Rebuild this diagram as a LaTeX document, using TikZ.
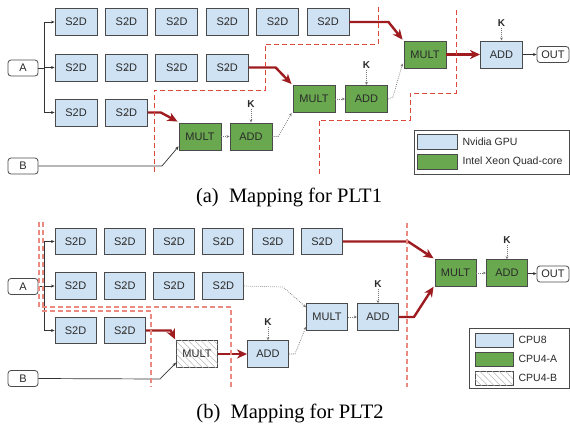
\documentclass[tikz,border=0pt]{standalone}
\usepackage{fontspec}
\usepackage{graphicx}
\setmainfont{Liberation Serif}
\setsansfont{Liberation Sans}
\usetikzlibrary{arrows.meta,calc,patterns.meta}

\definecolor{bluefill}{HTML}{CFE2F3}
\definecolor{greenfill}{HTML}{6AA84F}
\definecolor{boxline}{HTML}{4A4A4A}
\definecolor{txt}{HTML}{2A2A2A}
\definecolor{dotgray}{HTML}{777777}
\definecolor{wiregray}{HTML}{333333}
\definecolor{hotred}{HTML}{9E1B1F}
\definecolor{cutred}{HTML}{E0473C}
\definecolor{cutpink}{HTML}{EA8A80}

\tikzset{
  box/.style={draw=boxline, line width=0.9pt, minimum width=42pt, minimum height=27pt,
    inner sep=0pt, text=txt, font=\sffamily\fontsize{11}{11}\selectfont},
  gpu/.style={box, fill=bluefill},
  cpu/.style={box, fill=greenfill},
  hatchbox/.style={box, fill=white,
    postaction={pattern={Lines[angle=-45,distance=4.5pt,line width=0.5pt]}, pattern color=gray!55}},
  ionode/.style={draw=boxline, line width=0.8pt, rounded corners=3pt, minimum width=30pt,
    minimum height=16pt, inner sep=0pt, fill=white, text=txt, font=\sffamily\fontsize{11}{11}\selectfont},
  klabel/.style={inner sep=1pt, text=txt, font=\sffamily\bfseries\fontsize{10}{10}\selectfont},
  flow/.style={draw=dotgray, line width=0.7pt, dash pattern=on 0.8pt off 1.2pt,
    -{Stealth[length=3.2pt,width=2.8pt]}},
  wire/.style={draw=wiregray, line width=0.7pt, -{Stealth[length=3.6pt,width=3pt]}},
  hot/.style={draw=hotred, line width=2.4pt, -{Stealth[length=10pt,width=9pt,inset=3pt]}},
  cutA/.style={draw=cutred, line width=1pt, dash pattern=on 5pt off 3pt},
  cutB/.style={draw=cutpink, line width=1.4pt, dash pattern=on 5pt off 3pt},
  swatch/.style={draw=boxline, line width=0.9pt, minimum width=40pt, minimum height=15pt, inner sep=0pt},
  legtext/.style={anchor=west, inner sep=0pt, text=txt, font=\sffamily\fontsize{10.5}{10.5}\selectfont},
  caption/.style={inner sep=0pt, font=\fontsize{20.5}{20.5}\selectfont}
}

\begin{document}
\begin{tikzpicture}[x=1pt,y=-1pt]
\useasboundingbox (0,0) rectangle (570,426);

% ---------------- (a) Mapping for PLT1 ----------------
\foreach \x [count=\c] in {76,126.4,176.8,227.2,277.6,328}
  \node[gpu] (pa-r1-\c) at (\x,22) {S2D};
\foreach \x [count=\c] in {76,126.4,176.8,227.2}
  \node[gpu] (pa-r2-\c) at (\x,67.5) {S2D};
\foreach \x [count=\c] in {76,126.4}
  \node[gpu] (pa-r3-\c) at (\x,112.5) {S2D};

\node[ionode] (pa-A) at (23,68) {A};
\node[ionode] (pa-B) at (23,166) {B};

\node[cpu] (pa-mult1) at (200,136.5) {MULT};
\node[cpu] (pa-add1) at (251,136.5) {ADD};
\node[klabel] (pa-k1) at (251,104) {K};
\node[cpu] (pa-mult2) at (314,99) {MULT};
\node[cpu] (pa-add2) at (366.5,99) {ADD};
\node[klabel] (pa-k2) at (366.5,65) {K};
\node[cpu] (pa-mult3) at (425,54.5) {MULT};
\node[gpu] (pa-add3) at (501.5,54.5) {ADD};
\node[klabel] (pa-k3) at (501.5,23) {K};
\node[ionode, minimum width=32pt] (pa-out) at (553,54.5) {OUT};

% chains of S2D stages
\foreach \r/\n in {1/6,2/4,3/2}
  \foreach \c [evaluate=\c as \p using int(\c-1)] in {2,...,\n}
    \draw[flow] (pa-r\r-\p) -- (pa-r\r-\c);

\coordinate (pa-split) at (44,68);
\draw[wiregray, line width=0.7pt] (pa-A.east) -- (pa-split);
\draw[wiregray, line width=0.7pt] (pa-split |- pa-r1-1) -- (pa-split |- pa-r3-1);
\foreach \r in {1,2,3}
  \draw[wire] (pa-split |- pa-r\r-1) -- (pa-r\r-1.west);

\draw[hot] (pa-r3-2.east) -- ++(13,0) -- ($(pa-mult1.north west)+(-1,-1)$);
\draw[wire] (pa-B.east) -- (162,166) -- ($(pa-mult1.south west)+(0,-4)$);
\draw[flow] (pa-mult1) -- (pa-add1);
\draw[flow] (pa-k1) -- (pa-add1);
\draw[flow] (pa-add1.east) -- ++(6,0) -- ($(pa-mult2.south west)+(-1,0)$);
\draw[hot] (pa-r2-4.east) -- ++(27,0) -- ($(pa-mult2.north west)+(-1,-1)$);
\draw[flow] (pa-mult2) -- (pa-add2);
\draw[flow] (pa-k2) -- (pa-add2);
\draw[flow] (pa-add2.east) -- ++(5,-2) -- ($(pa-mult3.south west)+(-1,-5)$);
\draw[hot] (pa-r1-6.east) -- ++(39,0) -- ($(pa-mult3.north west)+(-1,-1)$);
\draw[hot] (pa-mult3) -- (pa-add3);
\draw[flow] (pa-k3) -- (pa-add3);
\draw[wire] (pa-add3) -- (pa-out);

\draw[cutA] (378,7) -- (378,44) -- (265,44) -- (265,90) -- (154,90) -- (154,174);
\draw[cutA] (456,10) -- (456,93) -- (410,93) -- (410,120) -- (319,120) -- (319,174);

\draw[draw=boxline, line width=0.9pt, fill=white] (414,130) rectangle (569,174);
\node[swatch, fill=bluefill] (pa-leg1) at (437,141.5) {};
\node[swatch, fill=greenfill] (pa-leg2) at (437,162) {};
\node[legtext] at ($(pa-leg1.east)+(5,0)$) {Nvidia GPU};
\node[legtext] at ($(pa-leg2.east)+(5,0)$) {Intel Xeon Quad-core};

\node[caption] (pa-cap) at (289,197) {(a)\hspace{0.5em}Mapping for PLT1};

% ---------------- (b) Mapping for PLT2 ----------------
\tikzset{box/.append style={minimum width=41pt, minimum height=26.5pt}}
\foreach \x [count=\c] in {75.5,124.8,174.1,223.4,272.7,322}
  \node[gpu] (pb-r1-\c) at (\x,241.5) {S2D};
\foreach \x [count=\c] in {75.5,124.8,174.1,223.4}
  \node[gpu] (pb-r2-\c) at (\x,286) {S2D};
\foreach \x [count=\c] in {75.5,124.8}
  \node[gpu] (pb-r3-\c) at (\x,330.5) {S2D};

\node[ionode] (pb-A) at (23,286.5) {A};
\node[ionode] (pb-B) at (23,378.5) {B};

\node[hatchbox] (pb-mult1) at (197,354) {MULT};
\node[gpu] (pb-add1) at (268,354) {ADD};
\node[klabel] (pb-k1) at (268,322) {K};
\node[gpu] (pb-mult2) at (327,317) {MULT};
\node[gpu] (pb-add2) at (378,317) {ADD};
\node[klabel] (pb-k2) at (378,284) {K};
\node[cpu] (pb-mult3) at (455.5,273) {MULT};
\node[cpu] (pb-add3) at (507,273) {ADD};
\node[klabel] (pb-k3) at (507,240) {K};
\node[ionode, minimum width=32pt] (pb-out) at (553,274) {OUT};

\foreach \r/\n in {1/6,2/4,3/2}
  \foreach \c [evaluate=\c as \p using int(\c-1)] in {2,...,\n}
    \draw[flow] (pb-r\r-\p) -- (pb-r\r-\c);

\coordinate (pb-split) at (44,286.5);
\draw[wiregray, line width=0.7pt] (pb-A.east) -- (pb-split);
\draw[wiregray, line width=0.7pt] (pb-split |- pb-r1-1) -- (pb-split |- pb-r3-1);
\foreach \r in {1,2,3}
  \draw[wire] (pb-split |- pb-r\r-1) -- (pb-r\r-1.west);

\draw[hot] (pb-r3-2.east) -- ++(25,0) -- ($(pb-mult1.north west)+(-1,-1)$);
\draw[wire] (pb-B.east) -- (160,379) -- ($(pb-mult1.south west)+(0,-5)$);
\draw[hot] (pb-mult1) -- (pb-add1);
\draw[flow] (pb-k1) -- (pb-add1);
\draw[flow] (pb-add1.east) -- ++(6,0) -- ($(pb-mult2.south west)+(0,-4)$);
\draw[flow] (pb-r2-4.east) -- (283,287) -- ($(pb-mult2.north west)+(0,4)$);
\draw[flow] (pb-mult2) -- (pb-add2);
\draw[flow] (pb-k2) -- (pb-add2);
\draw[hot] (pb-add2.east) -- ++(15,0) -- ($(pb-mult3.south west)+(-1,0)$);
\draw[hot] (pb-r1-6.east) -- (408,241.5) -- ($(pb-mult3.north west)+(-1,-1)$);
\draw[flow] (pb-mult3) -- (pb-add3);
\draw[flow] (pb-k3) -- (pb-add3);
\draw[wire] (pb-add3) -- (pb-out);

\draw[cutB] (39,222) -- (39,307) -- (231,307) -- (231,387);
\draw[cutB] (43,222) -- (43,311) -- (151,311) -- (151,387);
\draw[cutB] (407,223) -- (407,387);

\draw[draw=boxline, line width=0.9pt, fill=white] (469,328) rectangle (569,388);
\node[swatch, minimum width=38pt, minimum height=14pt, fill=bluefill] (pb-leg1) at (494,340) {};
\node[swatch, minimum width=38pt, minimum height=14pt, fill=greenfill] (pb-leg2) at (494,359) {};
\node[swatch, minimum width=38pt, minimum height=14pt, fill=white,
  postaction={pattern={Lines[angle=-45,distance=4.5pt,line width=0.5pt]}, pattern color=gray!55}] (pb-leg3) at (494,378) {};
\node[legtext] at ($(pb-leg1.east)+(5,0)$) {CPU8};
\node[legtext] at ($(pb-leg2.east)+(5,0)$) {CPU4-A};
\node[legtext] at ($(pb-leg3.east)+(5,0)$) {CPU4-B};

\node[caption] (pb-cap) at (290,413) {(b)\hspace{0.5em}Mapping for PLT2};
\end{tikzpicture}
\end{document}
